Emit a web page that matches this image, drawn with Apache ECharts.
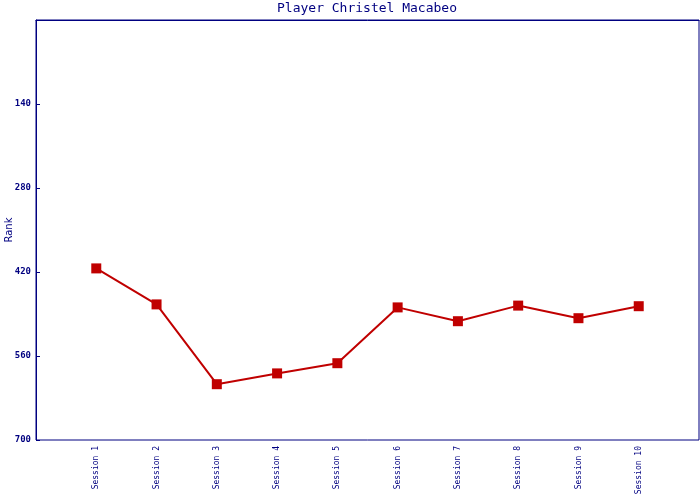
<!DOCTYPE html>
<html>
<head>
<meta charset="utf-8">
<script src="https://cdn.jsdelivr.net/npm/echarts@6/dist/echarts.min.js"></script>
<style>html,body{margin:0;padding:0;background:#fff}#c{width:700px;height:500px}</style>
</head>
<body>
<div id="c"></div>
<script>
var categories = ["Session 1","Session 2","Session 3","Session 4","Session 5","Session 6","Session 7","Session 8","Session 9","Session 10"];
var ranks = [414, 474, 607, 589, 572, 479, 502, 476, 497, 477];
var yTicks = [0, 140, 280, 420, 560, 700];

var navy = '#000080';
var mono = 'DejaVu Sans Mono';
var chart = echarts.init(document.getElementById('c'));
chart.setOption({
  animation: false,
  backgroundColor: '#ffffff',
  title: {
    text: 'Player Christel Macabeo',
    left: 367, top: 2, padding: 0, textAlign: 'center',
    textStyle: {color: navy, fontFamily: mono, fontSize: 13, fontWeight: 'normal'}
  },
  grid: {left: 36, right: 1, top: 20, bottom: 60, containLabel: false, outerBoundsMode: 'none', show: true, borderColor: navy, borderWidth: 1, backgroundColor: '#fff'},
  xAxis: {
    type: 'value', min: 0, max: categories.length + 1, interval: 1,
    axisLine: {lineStyle: {color: navy, width: 1}},
    axisTick: {show: false},
    splitLine: {show: false},
    axisLabel: {
      rotate: 90, color: navy, fontFamily: mono, fontSize: 8, margin: 6,
      formatter: function (v) { return (v >= 1 && v <= categories.length) ? categories[v - 1] : ''; }
    }
  },
  yAxis: {
    type: 'value', inverse: true, min: yTicks[0], max: yTicks[yTicks.length - 1], interval: 140,
    name: 'Rank', nameLocation: 'middle', nameGap: 22, nameRotate: 90, nameMoveOverlap: false,
    nameTextStyle: {color: navy, fontFamily: 'DejaVu Sans', fontSize: 10},
    axisLine: {show: true, lineStyle: {color: navy, width: 1}},
    axisTick: {show: true, inside: true, length: 4, lineStyle: {color: navy}},
    splitLine: {show: false},
    axisLabel: {
      color: navy, fontFamily: mono, fontSize: 9, fontWeight: 'bold', margin: 5,
      formatter: function (v) { return v === 0 ? '' : String(v); }
    }
  },
  series: [{
    type: 'line',
    data: ranks.map(function (r, i) { return [i + 1, r]; }),
    symbol: 'rect', symbolSize: 10,
    lineStyle: {color: '#c00000', width: 2},
    itemStyle: {color: '#c00000'}
  }]
});
</script>
</body>
</html>
